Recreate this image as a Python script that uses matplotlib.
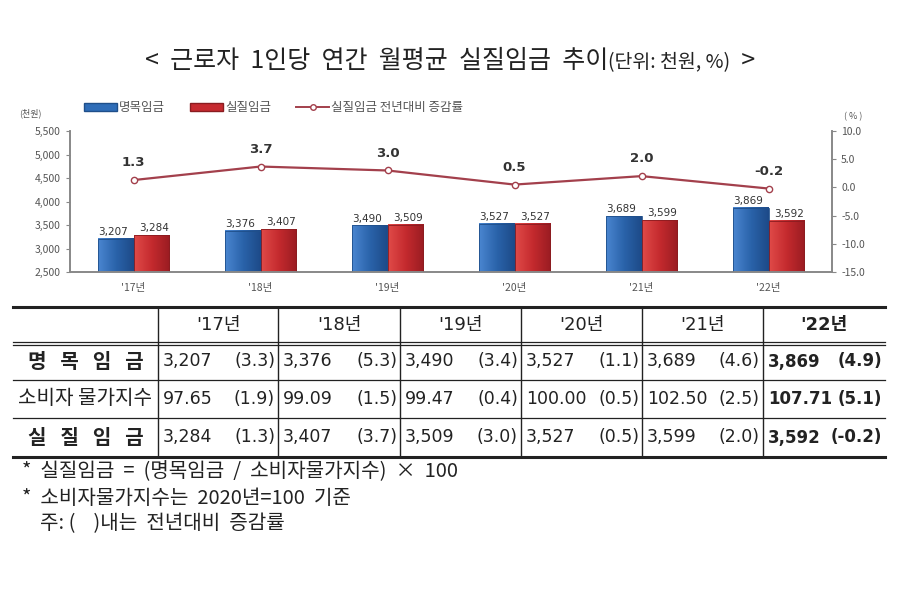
import matplotlib
matplotlib.use('Agg')
import matplotlib.pyplot as plt
import numpy as np
from matplotlib.lines import Line2D
from matplotlib.patches import Patch
from matplotlib.ticker import FuncFormatter
from matplotlib.colors import LinearSegmentedColormap

plt.rcParams['font.family'] = ['Noto Sans CJK KR', 'DejaVu Sans']
MIX = ['DejaVu Sans', 'Noto Sans CJK KR']

# 데이터
years = ["'17년", "'18년", "'19년", "'20년", "'21년", "'22년"]
nominal = [3207, 3376, 3490, 3527, 3689, 3869]
nominal_pct = [3.3, 5.3, 3.4, 1.1, 4.6, 4.9]
cpi = [97.65, 99.09, 99.47, 100.00, 102.50, 107.71]
cpi_pct = [1.9, 1.5, 0.4, 0.5, 2.5, 5.1]
real = [3284, 3407, 3509, 3527, 3599, 3592]
real_pct = [1.3, 3.7, 3.0, 0.5, 2.0, -0.2]

row_names = ['명   목   임   금', '소비자 물가지수', '실   질   임   금']
row_bold = [True, False, True]

BLUE = '#2f6db8'
RED = '#c62a30'
LINE = '#a3404c'
GRAY = '#555555'

W, H = 900, 597
fig = plt.figure(figsize=(9, 5.97), dpi=100)


def fx(px):
    return px / W


def fy(py):
    return 1 - py / H


# 제목 (단위 부분은 조금 작게)
renderer = fig.canvas.get_renderer()
parts = [('<  근로자  1인당  연간  월평균  실질임금  추이', 18), ('(단위: 천원, %)', 14), ('  >', 18)]
texts = []
total = 0
for s, size in parts:
    t = fig.text(0, fy(68), s, ha='left', va='baseline', fontsize=size, color='#222222')
    w = t.get_window_extent(renderer).width
    texts.append((t, w))
    total += w
cur = (W - total) / 2
for t, w in texts:
    t.set_x(fx(cur))
    cur += w

# 차트
ax = fig.add_axes([fx(70), fy(272), fx(832 - 70), fy(131) - fy(272)])
x = np.arange(len(years))
bw = 0.28
blue_cm = LinearSegmentedColormap.from_list('b', ['#4a86d0', '#2a63aa', '#1d4a88'])
red_cm = LinearSegmentedColormap.from_list('r', ['#e04a48', '#c42a2e', '#9a1c22'])
grad = np.linspace(0, 1, 64).reshape(1, -1)
for i in range(len(years)):
    x0 = x[i] - bw
    ax.imshow(grad, extent=[x0, x0 + bw, 2500, nominal[i]], aspect='auto', cmap=blue_cm, zorder=2)
    ax.imshow(grad, extent=[x[i], x[i] + bw, 2500, real[i]], aspect='auto', cmap=red_cm, zorder=2)
ax.bar(x - bw / 2, nominal, bw, bottom=0, fill=False, edgecolor='#1f4f8a', linewidth=0.6, zorder=3)
ax.bar(x + bw / 2, real, bw, bottom=0, fill=False, edgecolor='#8a1c20', linewidth=0.6, zorder=3)
for i in range(len(years)):
    ax.text(x[i] - bw / 2 - 0.02, nominal[i] + 40, f'{nominal[i]:,}', ha='center', va='bottom',
            fontsize=7.5, color='#333333', family='DejaVu Sans')
    ax.text(x[i] + bw / 2 + 0.02, real[i] + 40, f'{real[i]:,}', ha='center', va='bottom',
            fontsize=7.5, color='#333333', family='DejaVu Sans')

ax.set_ylim(2500, 5500)
ax.set_yticks(np.arange(2500, 5501, 500))
ax.yaxis.set_major_formatter(FuncFormatter(lambda v, p: f'{int(v):,}'))
ax.set_xlim(-0.5, len(years) - 0.5)
ax.set_xticks(x)
ax.set_xticklabels(years)
ax.tick_params(axis='x', length=0, labelsize=7.5, labelcolor=GRAY, pad=8)
ax.tick_params(axis='y', length=3, labelsize=7.5, labelcolor=GRAY, color='#888888')
for s in ['left', 'bottom', 'right']:
    ax.spines[s].set_color('#888888')
    ax.spines[s].set_linewidth(1.2)
ax.spines['top'].set_visible(False)

ax2 = ax.twinx()
ax2.plot(x, real_pct, color=LINE, linewidth=1.6, marker='o', markersize=4.5,
         markerfacecolor='white', markeredgecolor=LINE, zorder=3)
for i, v in enumerate(real_pct):
    ax2.text(x[i], v + 1.9, f'{v:.1f}', ha='center', va='bottom', fontsize=9.5,
             fontweight='bold', color='#333333', family='DejaVu Sans')
ax2.set_ylim(-15, 10)
ax2.set_yticks(np.arange(-15, 10.1, 5))
ax2.yaxis.set_major_formatter(FuncFormatter(lambda v, p: f'{v:.1f}'))
ax2.tick_params(axis='y', length=3, labelsize=7.5, labelcolor=GRAY, color='#888888')
for s in ['left', 'bottom', 'right']:
    ax2.spines[s].set_color('#888888')
    ax2.spines[s].set_linewidth(1.2)
ax2.spines['top'].set_visible(False)

fig.text(fx(30), fy(113), '(천원)', ha='center', va='center', fontsize=6.5, color=GRAY)
fig.text(fx(853), fy(117), '( % )', ha='center', va='center', fontsize=6.5, color=GRAY)

handles = [Patch(facecolor=BLUE, edgecolor='#1f4f8a'),
           Patch(facecolor=RED, edgecolor='#8a1c20'),
           Line2D([0], [0], color=LINE, linewidth=1.4, marker='o', markersize=4,
                  markerfacecolor='white', markeredgecolor=LINE)]
fig.legend(handles, ['명목임금', '실질임금', '실질임금 전년대비 증감률'], loc='center left',
           bbox_to_anchor=(fx(73), fy(108)), ncol=3, frameon=False, fontsize=9,
           handlelength=2.6, handleheight=0.6, handletextpad=0.2, columnspacing=2.0,
           labelcolor=GRAY)

# 표
col_edges = [13, 158, 278, 400, 521, 642, 763, 885]
row_edges = [307, 343, 380, 418, 457]


def hline(py, lw):
    fig.add_artist(Line2D([fx(col_edges[0]), fx(col_edges[-1])], [fy(py), fy(py)],
                          color='#222222', linewidth=lw))


def vline(px, y0, y1):
    fig.add_artist(Line2D([fx(px), fx(px)], [fy(y0), fy(y1)], color='#222222', linewidth=1.0))


hline(row_edges[0], 2.2)
hline(row_edges[1] - 1.5, 0.9)
hline(row_edges[1] + 1.5, 0.9)
hline(row_edges[2], 0.9)
hline(row_edges[3], 0.9)
hline(row_edges[4], 2.2)
for px in col_edges[1:-1]:
    vline(px, row_edges[0], row_edges[4])

for j, yr in enumerate(years):
    cx = (col_edges[j + 1] + col_edges[j + 2]) / 2
    cy = (row_edges[0] + row_edges[1]) / 2
    fig.text(fx(cx), fy(cy), yr, ha='center', va='center', fontsize=13, family=MIX,
             fontweight='bold' if j == len(years) - 1 else 'normal', color='#222222')

rows = [
    ([f'{v:,}' for v in nominal], nominal_pct),
    ([f'{v:.2f}' for v in cpi], cpi_pct),
    ([f'{v:,}' for v in real], real_pct),
]
for r, (vals, pcts) in enumerate(rows):
    cy = (row_edges[r + 1] + row_edges[r + 2]) / 2
    lx = (col_edges[0] + col_edges[1]) / 2
    fig.text(fx(lx), fy(cy), row_names[r], ha='center', va='center', fontsize=14.5,
             fontweight='bold' if row_bold[r] else 'normal', color='#222222')
    for j in range(len(years)):
        left = col_edges[j + 1]
        right = col_edges[j + 2]
        last = j == len(years) - 1
        wt = 'bold' if last else 'normal'
        size = 12 if last else 12.5
        fig.text(fx(left + 5), fy(cy), vals[j], ha='left', va='center', family=MIX,
                 fontsize=size, fontweight=wt, color='#222222')
        fig.text(fx(right - 3), fy(cy), f'({pcts[j]:.1f})', ha='right', va='center', family=MIX,
                 fontsize=size, fontweight=wt, color='#222222')

# 주석
notes = [
    (22, 472, '*  실질임금  =  (명목임금  /  소비자물가지수)  ×  100'),
    (22, 499, '*  소비자물가지수는  2020년=100  기준'),
    (40, 524, '주: (    )내는  전년대비  증감률'),
]
for px, py, t in notes:
    fig.text(fx(px), fy(py), t, ha='left', va='center', fontsize=14.5, color='#222222')

fig.savefig('out.png', dpi=100)
